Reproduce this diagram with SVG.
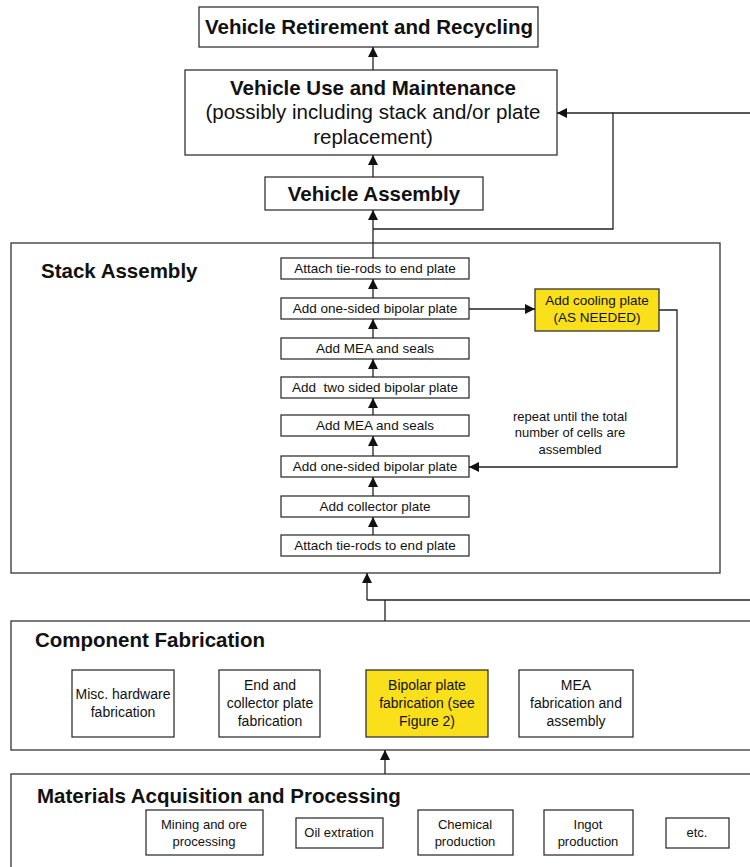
<svg xmlns="http://www.w3.org/2000/svg" width="750" height="867" viewBox="0 0 750 867">
<style>
.b{fill:#fff;stroke:#333;stroke-width:1.3}
.y{fill:#f9e01b;stroke:#333;stroke-width:1.3}
.c{fill:none;stroke:#222;stroke-width:1.3}
text{font-family:"Liberation Sans",Arial,sans-serif;fill:#111}
.t1{font-size:20.5px;font-weight:bold;text-anchor:middle}
.t2{font-size:20.5px;text-anchor:middle}
.h{font-size:20.5px;font-weight:bold}
.s{font-size:13.5px;text-anchor:middle}
.m{font-size:14px;text-anchor:middle}
.r{font-size:13px;text-anchor:middle}
</style>
<defs>
<marker id="a" markerWidth="10" markerHeight="10" viewBox="0 0 10 10" refX="10" refY="5" orient="auto" markerUnits="userSpaceOnUse">
<path d="M0,0 L10,5 L0,10 Z" fill="#111"/>
</marker>
</defs>
<g id="retire"><rect class="b" x="199" y="7" width="339" height="40"/><text class="t1" x="369" y="34">Vehicle Retirement and Recycling</text></g>
<g id="use"><rect class="b" x="185" y="70" width="372" height="85"/><text class="t1" x="373" y="95">Vehicle Use and Maintenance</text><text class="t2" x="373" y="119">(possibly including stack and/or plate</text><text class="t2" x="373" y="144">replacement)</text></g>
<g id="vassembly"><rect class="b" x="265" y="177" width="218" height="33"/><text class="t1" x="374" y="201">Vehicle Assembly</text></g>
<g id="stack"><rect class="b" x="11" y="243" width="709" height="330"/><text class="h" x="41" y="278">Stack Assembly</text></g>
<g id="s1"><rect class="b" x="281" y="258" width="188" height="21"/><text class="s" x="375" y="273">Attach tie-rods to end plate</text></g>
<g id="s2"><rect class="b" x="281" y="298" width="188" height="21"/><text class="s" x="375" y="313">Add one-sided bipolar plate</text></g>
<g id="s3"><rect class="b" x="281" y="338" width="188" height="21"/><text class="s" x="375" y="353">Add MEA and seals</text></g>
<g id="s4"><rect class="b" x="281" y="377" width="188" height="21"/><text class="s" x="375" y="392" xml:space="preserve">Add  two sided bipolar plate</text></g>
<g id="s5"><rect class="b" x="281" y="415" width="188" height="21"/><text class="s" x="375" y="430">Add MEA and seals</text></g>
<g id="s6"><rect class="b" x="281" y="456" width="188" height="21"/><text class="s" x="375" y="471">Add one-sided bipolar plate</text></g>
<g id="s7"><rect class="b" x="281" y="496" width="188" height="21"/><text class="s" x="375" y="511">Add collector plate</text></g>
<g id="s8"><rect class="b" x="281" y="535" width="188" height="21"/><text class="s" x="375" y="550">Attach tie-rods to end plate</text></g>
<g id="cool"><rect class="y" x="535" y="289" width="124" height="42"/><text class="s" x="597" y="305">Add cooling plate</text><text class="s" x="597" y="322">(AS NEEDED)</text></g>
<g id="note"><text class="r" x="570" y="421">repeat until the total</text><text class="r" x="570" y="437">number of cells are</text><text class="r" x="570" y="454">assembled</text></g>
<g id="comp"><rect class="b" x="11" y="621" width="745" height="129"/><text class="h" x="35" y="647">Component Fabrication</text></g>
<g id="c1"><rect class="b" x="72" y="670" width="102" height="67"/><text class="m" x="123" y="699">Misc. hardware</text><text class="m" x="123" y="717">fabrication</text></g>
<g id="c2"><rect class="b" x="219" y="670" width="101" height="67"/><text class="m" x="270" y="690">End and</text><text class="m" x="270" y="708">collector plate</text><text class="m" x="270" y="726">fabrication</text></g>
<g id="c3"><rect class="y" x="366" y="670" width="122" height="67"/><text class="m" x="427" y="690">Bipolar plate</text><text class="m" x="427" y="708">fabrication (see</text><text class="m" x="427" y="726">Figure 2)</text></g>
<g id="c4"><rect class="b" x="519" y="670" width="114" height="67"/><text class="m" x="576" y="690">MEA</text><text class="m" x="576" y="708">fabrication and</text><text class="m" x="576" y="726">assembly</text></g>
<g id="mat"><rect class="b" x="11" y="774" width="745" height="100"/><text class="h" x="37" y="803">Materials Acquisition and Processing</text></g>
<g id="m1"><rect class="b" x="146" y="810" width="117" height="45"/><text class="r" x="204" y="829">Mining and ore</text><text class="r" x="204" y="846">processing</text></g>
<g id="m2"><rect class="b" x="296" y="818" width="87" height="30"/><text class="r" x="339" y="837">Oil extration</text></g>
<g id="m3"><rect class="b" x="418" y="810" width="95" height="45"/><text class="r" x="465" y="829">Chemical</text><text class="r" x="465" y="846">production</text></g>
<g id="m4"><rect class="b" x="544" y="810" width="89" height="45"/><text class="r" x="588" y="829">Ingot</text><text class="r" x="588" y="846">production</text></g>
<g id="m5"><rect class="b" x="666" y="818" width="63" height="30"/><text class="r" x="697" y="837">etc.</text></g>
<g id="connectors">
<path class="c" d="M373,70 V47" marker-end="url(#a)"/>
<path class="c" d="M373,177 V155" marker-end="url(#a)"/>
<path class="c" d="M373,258 V210" marker-end="url(#a)"/>
<path class="c" d="M373,229 H613 V113 H750"/>
<path class="c" d="M613,113 H557" marker-end="url(#a)"/>
<path class="c" d="M373,298 V279" marker-end="url(#a)"/>
<path class="c" d="M373,338 V319" marker-end="url(#a)"/>
<path class="c" d="M373,377 V359" marker-end="url(#a)"/>
<path class="c" d="M373,415 V398" marker-end="url(#a)"/>
<path class="c" d="M373,456 V436" marker-end="url(#a)"/>
<path class="c" d="M373,496 V477" marker-end="url(#a)"/>
<path class="c" d="M373,535 V517" marker-end="url(#a)"/>
<path class="c" d="M469,309 H535" marker-end="url(#a)"/>
<path class="c" d="M659,310 H677 V467 H469" marker-end="url(#a)"/>
<path class="c" d="M367,600 V573" marker-end="url(#a)"/>
<path class="c" d="M367,600 H750 M385,600 V621"/>
<path class="c" d="M385,774 V750" marker-end="url(#a)"/>
</g>
</svg>
